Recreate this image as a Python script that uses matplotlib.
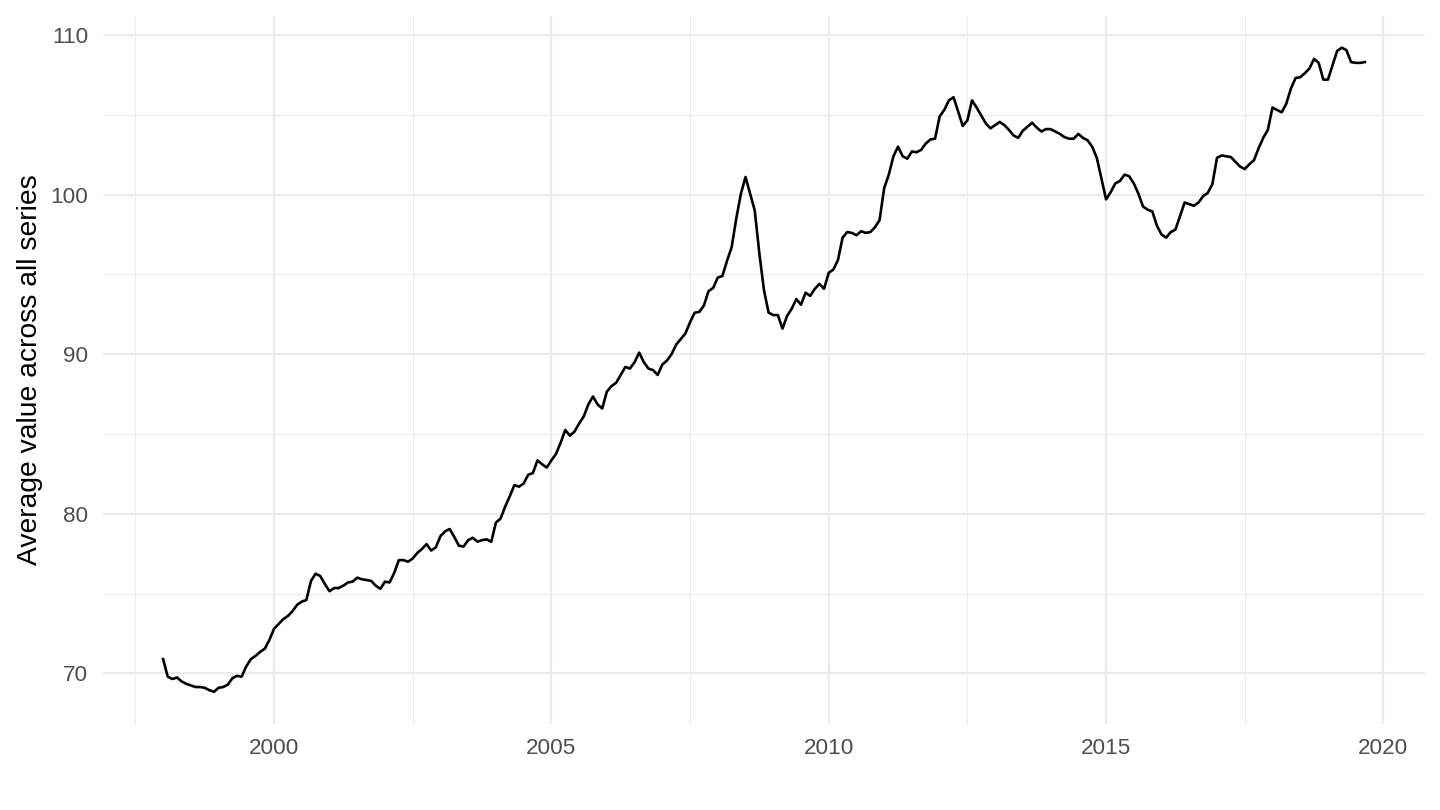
import matplotlib
matplotlib.use("Agg")
import matplotlib.pyplot as plt
from matplotlib.ticker import MultipleLocator
import numpy as np

# monthly averages, Jan 1998 .. Sep 2019
start_year = 1998
v1998 = [70.9, 69.8, 69.65, 69.75, 69.5, 69.35, 69.25, 69.15, 69.15, 69.1, 68.95, 68.85]
v1999 = [69.1, 69.15, 69.3, 69.7, 69.85, 69.8, 70.45, 70.9, 71.1, 71.35, 71.55, 72.1]
v2000 = [72.8, 73.1, 73.4, 73.6, 73.9, 74.3, 74.5, 74.6, 75.8, 76.25, 76.1, 75.6]
v2001 = [75.15, 75.35, 75.35, 75.5, 75.7, 75.75, 76.0, 75.9, 75.85, 75.8, 75.5, 75.3]
v2002 = [75.75, 75.7, 76.3, 77.1, 77.1, 77.0, 77.2, 77.55, 77.8, 78.1, 77.7, 77.9]
v2003 = [78.6, 78.9, 79.05, 78.55, 78.0, 77.95, 78.35, 78.5, 78.25, 78.35, 78.4, 78.25]
v2004 = [79.45, 79.7, 80.45, 81.1, 81.8, 81.7, 81.9, 82.45, 82.55, 83.35, 83.1, 82.9]
v2005 = [83.35, 83.75, 84.45, 85.25, 84.9, 85.15, 85.65, 86.1, 86.85, 87.35, 86.85, 86.6]
v2006 = [87.65, 88.0, 88.2, 88.7, 89.2, 89.1, 89.5, 90.1, 89.5, 89.1, 89.0, 88.7]
v2007 = [89.35, 89.6, 90.0, 90.6, 90.95, 91.3, 92.0, 92.6, 92.65, 93.05, 93.95, 94.15]
v2008 = [94.8, 94.9, 95.85, 96.7, 98.5, 100.05, 101.1, 100.05, 99.0, 96.3, 94.0, 92.6]
v2009 = [92.45, 92.45, 91.6, 92.4, 92.85, 93.45, 93.1, 93.85, 93.65, 94.1, 94.4, 94.1]
v2010 = [95.1, 95.3, 95.9, 97.3, 97.65, 97.6, 97.45, 97.7, 97.6, 97.65, 97.95, 98.4]
v2011 = [100.4, 101.25, 102.4, 103.0, 102.4, 102.25, 102.7, 102.65, 102.8, 103.2, 103.45, 103.5]
v2012 = [104.9, 105.3, 105.9, 106.1, 105.2, 104.3, 104.65, 105.9, 105.45, 104.95, 104.45, 104.15]
v2013 = [104.35, 104.55, 104.35, 104.05, 103.7, 103.55, 104.0, 104.25, 104.5, 104.2, 103.95, 104.1]
v2014 = [104.1, 103.95, 103.8, 103.6, 103.5, 103.5, 103.8, 103.55, 103.4, 103.0, 102.3, 101.0]
v2015 = [99.7, 100.15, 100.7, 100.85, 101.25, 101.15, 100.7, 100.05, 99.25, 99.05, 98.95, 98.05]
v2016 = [97.5, 97.3, 97.65, 97.8, 98.65, 99.5, 99.4, 99.3, 99.5, 99.9, 100.1, 100.65]
v2017 = [102.3, 102.45, 102.4, 102.35, 102.05, 101.75, 101.6, 101.9, 102.15, 102.9, 103.55, 104.05]
v2018 = [105.45, 105.3, 105.15, 105.7, 106.65, 107.3, 107.35, 107.6, 107.9, 108.5, 108.25, 107.2]
v2019 = [107.2, 108.1, 109.0, 109.2, 109.05, 108.3, 108.25, 108.25, 108.3]

values = (v1998 + v1999 + v2000 + v2001 + v2002 + v2003 + v2004 + v2005 + v2006
          + v2007 + v2008 + v2009 + v2010 + v2011 + v2012 + v2013 + v2014
          + v2015 + v2016 + v2017 + v2018 + v2019)
dates = start_year + np.arange(len(values)) / 12.0

plt.rcParams['font.family'] = ['Liberation Sans', 'DejaVu Sans']

fig = plt.figure(figsize=(14.4, 8.1), dpi=100)
ax = fig.add_axes([103 / 1440, 1 - 724 / 810, 1322 / 1440, 708.5 / 810])

grid_col = '#EBEBEB'
ax.xaxis.set_major_locator(MultipleLocator(5))
ax.xaxis.set_minor_locator(MultipleLocator(2.5))
ax.yaxis.set_major_locator(MultipleLocator(10))
ax.yaxis.set_minor_locator(MultipleLocator(5))
ax.grid(which='major', color=grid_col, linewidth=1.6)
ax.grid(which='minor', color=grid_col, linewidth=0.8)
ax.set_axisbelow(True)

ax.plot(dates, values, color='black', linewidth=1.9)

# ggplot-style 5% expansion
xr = dates[-1] - dates[0]
ax.set_xlim(dates[0] - 0.05 * xr, dates[-1] + 0.05 * xr)
yr = max(values) - min(values)
ax.set_ylim(min(values) - 0.05 * yr, max(values) + 0.05 * yr)

for s in ax.spines.values():
    s.set_visible(False)
ax.tick_params(which='both', length=0)
ax.tick_params(axis='x', labelsize=16.2, labelcolor='#4D4D4D', pad=10)
ax.tick_params(axis='y', labelsize=16.2, labelcolor='#4D4D4D', pad=10.5)
ax.set_ylabel('Average value across all series', fontsize=20.3, color='black', labelpad=5.5)

fig.savefig('out.png', dpi=100, facecolor='white')
